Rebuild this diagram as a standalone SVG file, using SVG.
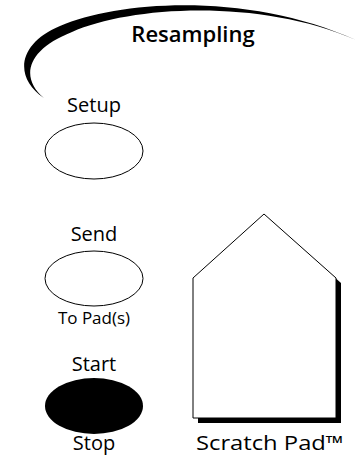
<svg xmlns="http://www.w3.org/2000/svg" width="356" height="458" viewBox="0 0 356 458">
<style>
text{font-family:"Open Sans","Liberation Sans",sans-serif;fill:#000;text-anchor:middle}
.lbl{font-size:20px}
.small{font-size:17px}
.title{font-size:22px;font-weight:600}
.btn{fill:#fff;stroke:#000;stroke-width:1}
</style>
<rect width="356" height="458" fill="#fff"/>
<g id="swoosh">
<path d="M44,98 C14,78 17,44 60,26 C120,0 250,-8 356,40 C260,-2 130,6 72,32 C26,50 20,78 44,98 Z" fill="#000"/>
<text class="title" x="193" y="42">Resampling</text>
</g>
<g id="setup">
<text class="lbl" x="94" y="112">Setup</text>
<ellipse class="btn" cx="94" cy="151" rx="49" ry="28"/>
</g>
<g id="send">
<text class="lbl" x="94" y="241">Send</text>
<ellipse class="btn" cx="94" cy="278.5" rx="49" ry="27.5"/>
<text class="small" x="94" y="324">To Pad(s)</text>
</g>
<g id="start">
<text class="lbl" x="94" y="371">Start</text>
<ellipse cx="94" cy="406" rx="49" ry="28" fill="#000"/>
<text class="lbl" x="94" y="450">Stop</text>
</g>
<g id="scratchpad">
<polygon points="269,219 341,283 341,423 198,423 198,283" fill="#000"/>
<polygon points="264,214 336,278 336,418 193,418 193,278" fill="#fff" stroke="#000" stroke-width="1"/>
<text class="lbl" x="270" y="450" font-size="21" textLength="148" lengthAdjust="spacingAndGlyphs">Scratch Pad™</text>
</g>
<g id="connectors"/>
</svg>
